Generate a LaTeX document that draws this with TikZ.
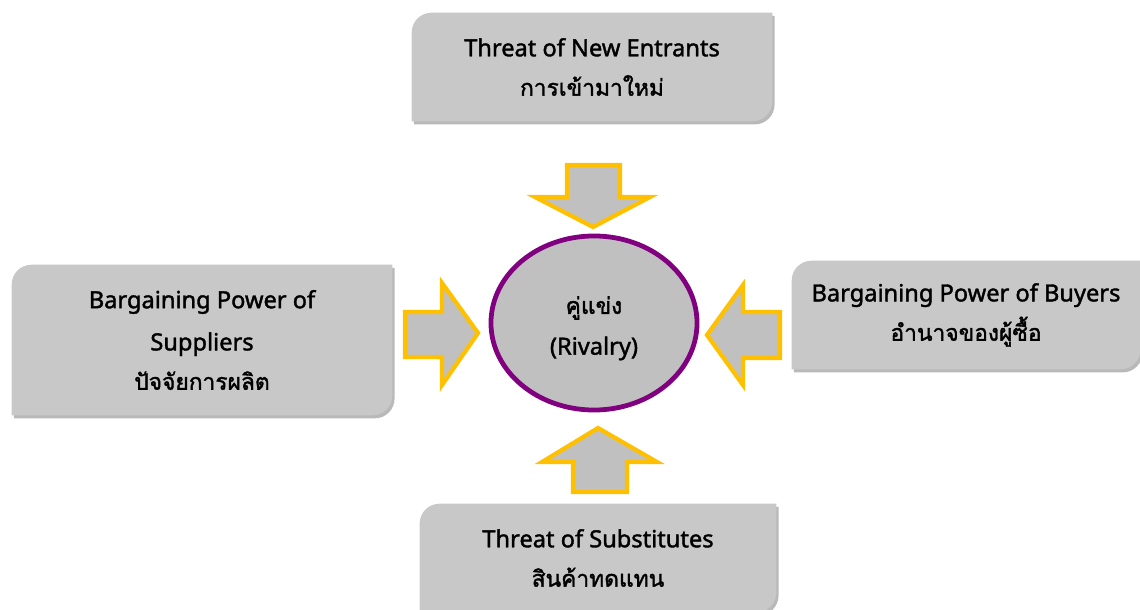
\documentclass[tikz,border=0pt]{standalone}
\usepackage{fontspec}
\setmainfont{Noto Sans}[BoldFont=Noto Sans, BoldFeatures={FakeBold=1.6}]
\newfontfamily\thaifont{Loma}[Script=Thai, BoldFont=Loma, BoldFeatures={FakeBold=1.6}]
\usetikzlibrary{backgrounds,shadows,shapes.geometric}

\definecolor{gold}{RGB}{255,192,0}
\definecolor{plum}{RGB}{128,0,128}
\definecolor{midgray}{RGB}{192,192,192}
\definecolor{boxgray}{RGB}{200,200,200}

% box with two round corners (top left, bottom right)
\def\rr{0.5cm}
\def\rc{0.22cm}
\newcommand\forcebox[1]{%
  \path[forcebg] ([yshift=-\rr]#1.north west)
    .. controls ([yshift=-\rc]#1.north west) and ([xshift=\rc]#1.north west) .. ([xshift=\rr]#1.north west)
    -- (#1.north east) -- ([yshift=\rr]#1.south east)
    .. controls ([yshift=\rc]#1.south east) and ([xshift=-\rc]#1.south east) .. ([xshift=-\rr]#1.south east)
    -- (#1.south west) -- cycle;}

\begin{document}
\begin{tikzpicture}[
  x=0.025cm, y=-0.025cm,
  force/.style={
    rectangle, inner sep=0pt, align=center,
    font=\fontsize{16.8}{28}\selectfont\bfseries,
  },
  forcebg/.style={
    fill=boxgray,
    drop shadow={shadow xshift=1.6pt, shadow yshift=-2.2pt, opacity=0.55},
  },
  blockarrow/.style={fill=midgray, draw=gold, line width=3pt, line join=miter},
  rival/.style={
    ellipse, fill=midgray, draw=plum, line width=3.4pt,
    minimum width=5.15cm, minimum height=4.35cm,
    align=center, font=\fontsize{16.8}{29}\selectfont\bfseries,
  },
]
\useasboundingbox (0,0) rectangle (1140,610);

% the five forces
\node[force, minimum width=9cm,   minimum height=2.7cm]  (entrants)  at (592,67)    {Threat of New Entrants\\{\thaifont\fontsize{16.2}{28}\selectfont การเข้ามาใหม่}};
\node[force, minimum width=9.5cm, minimum height=3.75cm] (suppliers) at (202,340)   {Bargaining Power of\\[2pt] Suppliers\\{\thaifont\fontsize{16.2}{28}\selectfont ปัจจัยการผลิต}};
\node[force, minimum width=8.7cm, minimum height=2.7cm]  (buyers)    at (966,315)   {Bargaining Power of Buyers\\{\thaifont\fontsize{16.2}{28}\selectfont อำนาจของผู้ซื้อ}};
\node[force, minimum width=8.9cm, minimum height=2.7cm]  (substitutes) at (598,558) {Threat of Substitutes\\{\thaifont\fontsize{16.2}{28}\selectfont สินค้าทดแทน}};

\node[rival] (rivalry) at (594,323) {\rule{0pt}{20pt}{\thaifont\fontsize{16.2}{29}\selectfont คู่แข่ง}\\(Rivalry)};

\begin{scope}[on background layer]
  \foreach \f in {entrants,suppliers,buyers,substitutes}
    \forcebox{\f};
\end{scope}

% block arrows towards the centre
\draw[blockarrow] (567,165) -- (620,165) -- (620,197) -- (650,197) -- (593,227) -- (535,197) -- (567,197) -- cycle;
\draw[blockarrow] (405,312) -- (442,312) -- (442,283) -- (478,333) -- (442,385) -- (442,357) -- (405,357) -- cycle;
\draw[blockarrow] (780,312) -- (743,312) -- (743,285) -- (707,335) -- (743,385) -- (743,358) -- (780,358) -- cycle;
\draw[blockarrow] (598,428) -- (657,462) -- (627,462) -- (627,492) -- (573,492) -- (573,462) -- (542,462) -- cycle;

\end{tikzpicture}
\end{document}
